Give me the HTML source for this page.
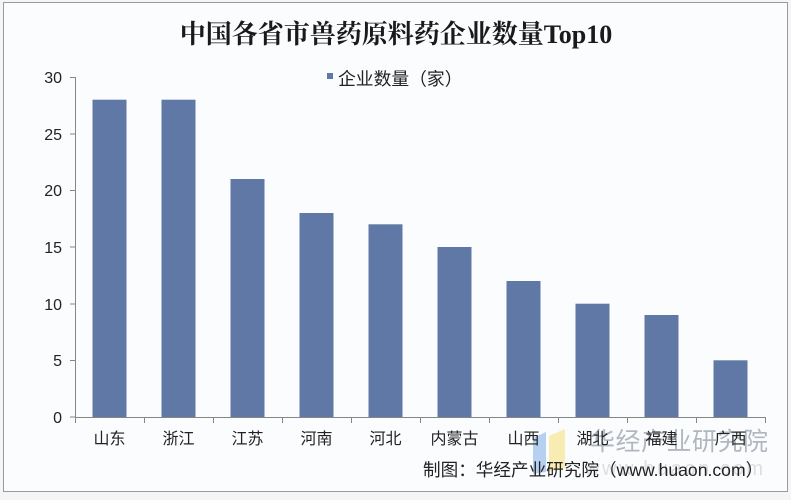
<!DOCTYPE html>
<html>
<head>
<meta charset="utf-8">
<style>
  html,body{margin:0;padding:0;background:#ffffff;}
  body{width:791px;height:500px;overflow:hidden;position:relative;}
  svg{position:absolute;left:0;top:0;}
</style>
</head>
<body>
<svg width="791" height="500" viewBox="0 0 791 500" xmlns="http://www.w3.org/2000/svg">
  <!-- frame -->
  <rect x="0" y="0" width="791" height="500" fill="#f4f5f7"/>
  <rect x="3.5" y="2.5" width="784" height="489" fill="#fbfcfe" stroke="#9a9a9a" stroke-width="1"/>

  <!-- title -->
  <text x="396" y="43" text-anchor="middle" font-family="'Liberation Serif','Noto Serif CJK SC',serif" font-weight="bold" font-size="26" fill="#1a1a1a">中国各省市兽药原料药企业数量Top10</text>

  <!-- legend -->
  <rect x="327" y="73" width="6" height="6" fill="#6078a6"/>
  <text x="338" y="85" font-family="'Liberation Sans','Noto Sans CJK SC',sans-serif" font-size="17.8" fill="#222">企业数量（家）</text>

  <!-- y axis -->
  <g stroke="#868686" stroke-width="1">
    <line x1="75.5" y1="77" x2="75.5" y2="417"/>
    <line x1="70" y1="77.5" x2="75.5" y2="77.5"/>
    <line x1="70" y1="134" x2="75.5" y2="134"/>
    <line x1="70" y1="190.5" x2="75.5" y2="190.5"/>
    <line x1="70" y1="247" x2="75.5" y2="247"/>
    <line x1="70" y1="304" x2="75.5" y2="304"/>
    <line x1="70" y1="360.5" x2="75.5" y2="360.5"/>
    <line x1="70" y1="417" x2="75.5" y2="417"/>
  </g>
  <g font-family="'Liberation Sans','DejaVu Sans',sans-serif" font-size="16" fill="#222" text-anchor="end">
    <text x="62" y="83">30</text>
    <text x="62" y="140">25</text>
    <text x="62" y="196">20</text>
    <text x="62" y="253">15</text>
    <text x="62" y="310">10</text>
    <text x="62" y="366">5</text>
    <text x="62" y="423">0</text>
  </g>

  <!-- bars -->
  <g fill="#6078a6">
    <rect x="92.5"  y="99.7"  width="34" height="317.3"/>
    <rect x="161.5" y="99.7"  width="34" height="317.3"/>
    <rect x="230.5" y="179"   width="34" height="238"/>
    <rect x="299.5" y="213"   width="34" height="204"/>
    <rect x="368.5" y="224.3" width="34" height="192.7"/>
    <rect x="437.5" y="247"   width="34" height="170"/>
    <rect x="506.5" y="281"   width="34" height="136"/>
    <rect x="575.5" y="303.7" width="34" height="113.3"/>
    <rect x="644.5" y="315"   width="34" height="102"/>
    <rect x="713.5" y="360.3" width="34" height="56.7"/>
  </g>

  <!-- x axis -->
  <g stroke="#868686" stroke-width="1">
    <line x1="75" y1="417.5" x2="765" y2="417.5"/>
    <line x1="75.5" y1="417" x2="75.5" y2="423"/>
    <line x1="144.5" y1="417" x2="144.5" y2="423"/>
    <line x1="213.5" y1="417" x2="213.5" y2="423"/>
    <line x1="282.5" y1="417" x2="282.5" y2="423"/>
    <line x1="351.5" y1="417" x2="351.5" y2="423"/>
    <line x1="420.5" y1="417" x2="420.5" y2="423"/>
    <line x1="489.5" y1="417" x2="489.5" y2="423"/>
    <line x1="558.5" y1="417" x2="558.5" y2="423"/>
    <line x1="627.5" y1="417" x2="627.5" y2="423"/>
    <line x1="696.5" y1="417" x2="696.5" y2="423"/>
    <line x1="765.5" y1="417" x2="765.5" y2="423"/>
  </g>

  <!-- watermark logo -->
  <polygon points="533,438 546,432 546,472 533,474" fill="#a9c8ef" opacity="0.85"/>
  <polygon points="549,436 565,429 565,468 549,472" fill="#f7e9a6" opacity="0.85"/>
  <!-- watermark text -->
  <text x="590" y="450" font-family="'Liberation Sans','Noto Sans CJK SC',sans-serif" font-size="25" fill="#9aa0aa" opacity="0.75" letter-spacing="0.5">华经产业研究院</text>
  <text x="585" y="475" font-family="'Liberation Sans','DejaVu Sans',sans-serif" font-size="20" fill="#c3c7cd" opacity="0.55" textLength="178" lengthAdjust="spacing">www.huaon.com</text>

  <g font-family="'Liberation Sans','Noto Sans CJK SC',sans-serif" font-size="16" fill="#222" text-anchor="middle">
    <text x="109.5" y="444">山东</text>
    <text x="178.5" y="444">浙江</text>
    <text x="247.5" y="444">江苏</text>
    <text x="316.5" y="444">河南</text>
    <text x="385.5" y="444">河北</text>
    <text x="454.5" y="444">内蒙古</text>
    <text x="523.5" y="444">山西</text>
    <text x="592.5" y="444">湖北</text>
    <text x="661.5" y="444">福建</text>
    <text x="730.5" y="444">广西</text>
  </g>

  <!-- source -->
  <text x="423" y="476" font-family="'Liberation Sans','Noto Sans CJK SC',sans-serif" font-size="17.6" fill="#222">制图：华经产业研究院（www.huaon.com）</text>
</svg>
</body>
</html>
